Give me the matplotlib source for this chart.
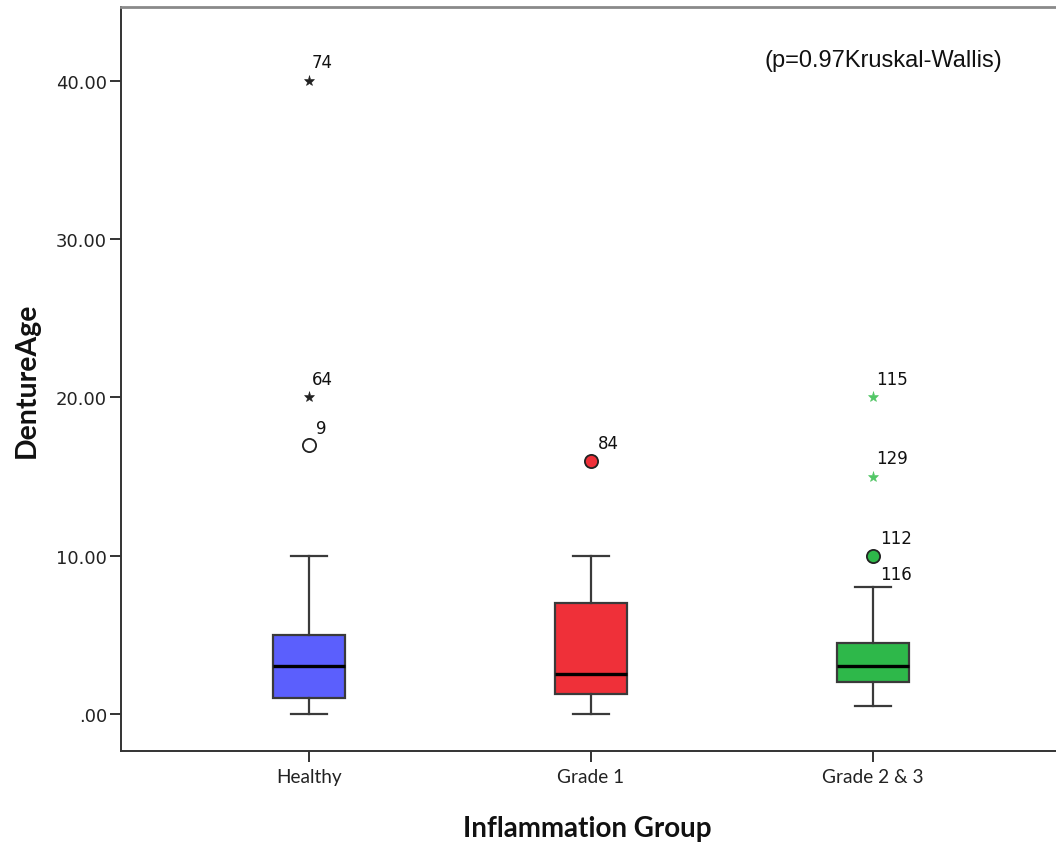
import matplotlib
matplotlib.use("Agg")
import matplotlib.pyplot as plt

# Group summaries of denture age (years)
groups = ["Healthy", "Grade 1", "Grade 2 & 3"]
whisker_low = [0.0, 0.0, 0.5]
q1 = [1.0, 1.25, 2.0]
median = [3.0, 2.5, 3.0]
q3 = [5.0, 7.0, 4.5]
whisker_high = [10.0, 10.0, 8.0]

# Outlying cases: group index, value, case number, kind
outlier_group = [0, 0, 0, 1, 2, 2, 2, 2]
outlier_value = [40.0, 20.0, 17.0, 16.0, 20.0, 15.0, 10.0, 10.0]
outlier_case = ["74", "64", "9", "84", "115", "129", "112", "116"]
outlier_kind = ["extreme", "extreme", "mild", "mild", "extreme", "extreme", "mild", "mild"]

y_ticks = [0, 10, 20, 30, 40]
y_tick_labels = [".00", "10.00", "20.00", "30.00", "40.00"]
p_text = "(p=0.97Kruskal-Wallis)"

box_colors = ["#5b5ffd", "#ef3039", "#2eb84a"]
circle_fill = ["white", "#ef3039", "#2eb84a"]
star_colors = ["#222222", "#ef3039", "#52c766"]

fig = plt.figure(figsize=(10.56, 8.45), dpi=100)
ax = fig.add_axes([121 / 1056, 93 / 845, 1 - 121 / 1056, (752 - 8) / 845])

positions = [1, 2, 3]
stats = []
for i, g in enumerate(groups):
    stats.append(dict(label=g, whislo=whisker_low[i], q1=q1[i], med=median[i],
                      q3=q3[i], whishi=whisker_high[i], fliers=[]))

edge = "#3a3a3a"
bp = ax.bxp(stats, positions=positions, widths=0.255, patch_artist=True,
            showfliers=False, capwidths=0.128,
            boxprops=dict(edgecolor=edge, linewidth=1.6),
            whiskerprops=dict(color=edge, linewidth=1.6),
            capprops=dict(color=edge, linewidth=1.6),
            medianprops=dict(color="black", linewidth=2.4))
for patch, c in zip(bp["boxes"], box_colors):
    patch.set_facecolor(c)

# Outlier markers and case labels
seen = {}
for g, v, case, kind in zip(outlier_group, outlier_value, outlier_case, outlier_kind):
    x = positions[g]
    key = (g, v)
    repeat = key in seen
    seen[key] = True
    if kind == "mild":
        if not repeat:
            ax.plot(x, v, marker="o", markersize=9.5, markerfacecolor=circle_fill[g],
                    markeredgecolor="#222222", markeredgewidth=1.3, linestyle="none",
                    zorder=4)
        if repeat:
            ax.annotate(case, (x, v), xytext=(5, -7), textcoords="offset points",
                        ha="left", va="top", fontsize=12, fontfamily="DejaVu Sans",
                        color="#111111")
        else:
            ax.annotate(case, (x, v), xytext=(5, 6), textcoords="offset points",
                        ha="left", va="bottom", fontsize=12, fontfamily="DejaVu Sans",
                        color="#111111")
    else:
        ax.plot(x, v, marker="*", markersize=8, markerfacecolor=star_colors[g],
                markeredgecolor=star_colors[g], markeredgewidth=0.4,
                linestyle="none", zorder=4)
        ax.annotate(case, (x, v), xytext=(2, 7), textcoords="offset points",
                    ha="left", va="bottom", fontsize=12, fontfamily="DejaVu Sans",
                    color="#111111")

ax.set_xlim(0.333, 3.649)
ax.set_ylim(-2.34, 44.67)
ax.set_yticks(y_ticks)
ax.set_yticklabels(y_tick_labels, fontfamily="DejaVu Sans", fontsize=13, color="#222222")
ax.set_xticks(positions)
ax.set_xticklabels(groups, fontfamily="Lato", fontsize=13.7, color="#222222")
ax.tick_params(axis="both", direction="out", length=8, width=1.4, color="#333333")
ax.tick_params(axis="x", pad=4)
ax.tick_params(axis="y", pad=2)

for side in ["left", "bottom"]:
    ax.spines[side].set_color("#333333")
    ax.spines[side].set_linewidth(1.4)
ax.spines["top"].set_color("#8a8a8a")
ax.spines["top"].set_linewidth(2.0)
ax.spines["right"].set_visible(False)

fig.text(27 / 1056, 1 - 380 / 845, "DentureAge", rotation=90, ha="center", va="center",
         fontfamily="Lato", fontweight="bold", fontsize=20.5, color="#111111")
fig.text(587 / 1056, 1 - 829 / 845, "Inflammation Group", ha="center", va="center",
         fontfamily="Lato", fontweight="bold", fontsize=20, color="#111111")
ax.text(883 / 1056, 1 - 61 / 845, p_text, transform=fig.transFigure, ha="center",
        va="center", fontfamily="Liberation Sans", fontsize=17, color="#111111")

fig.savefig("out.png", dpi=100)
